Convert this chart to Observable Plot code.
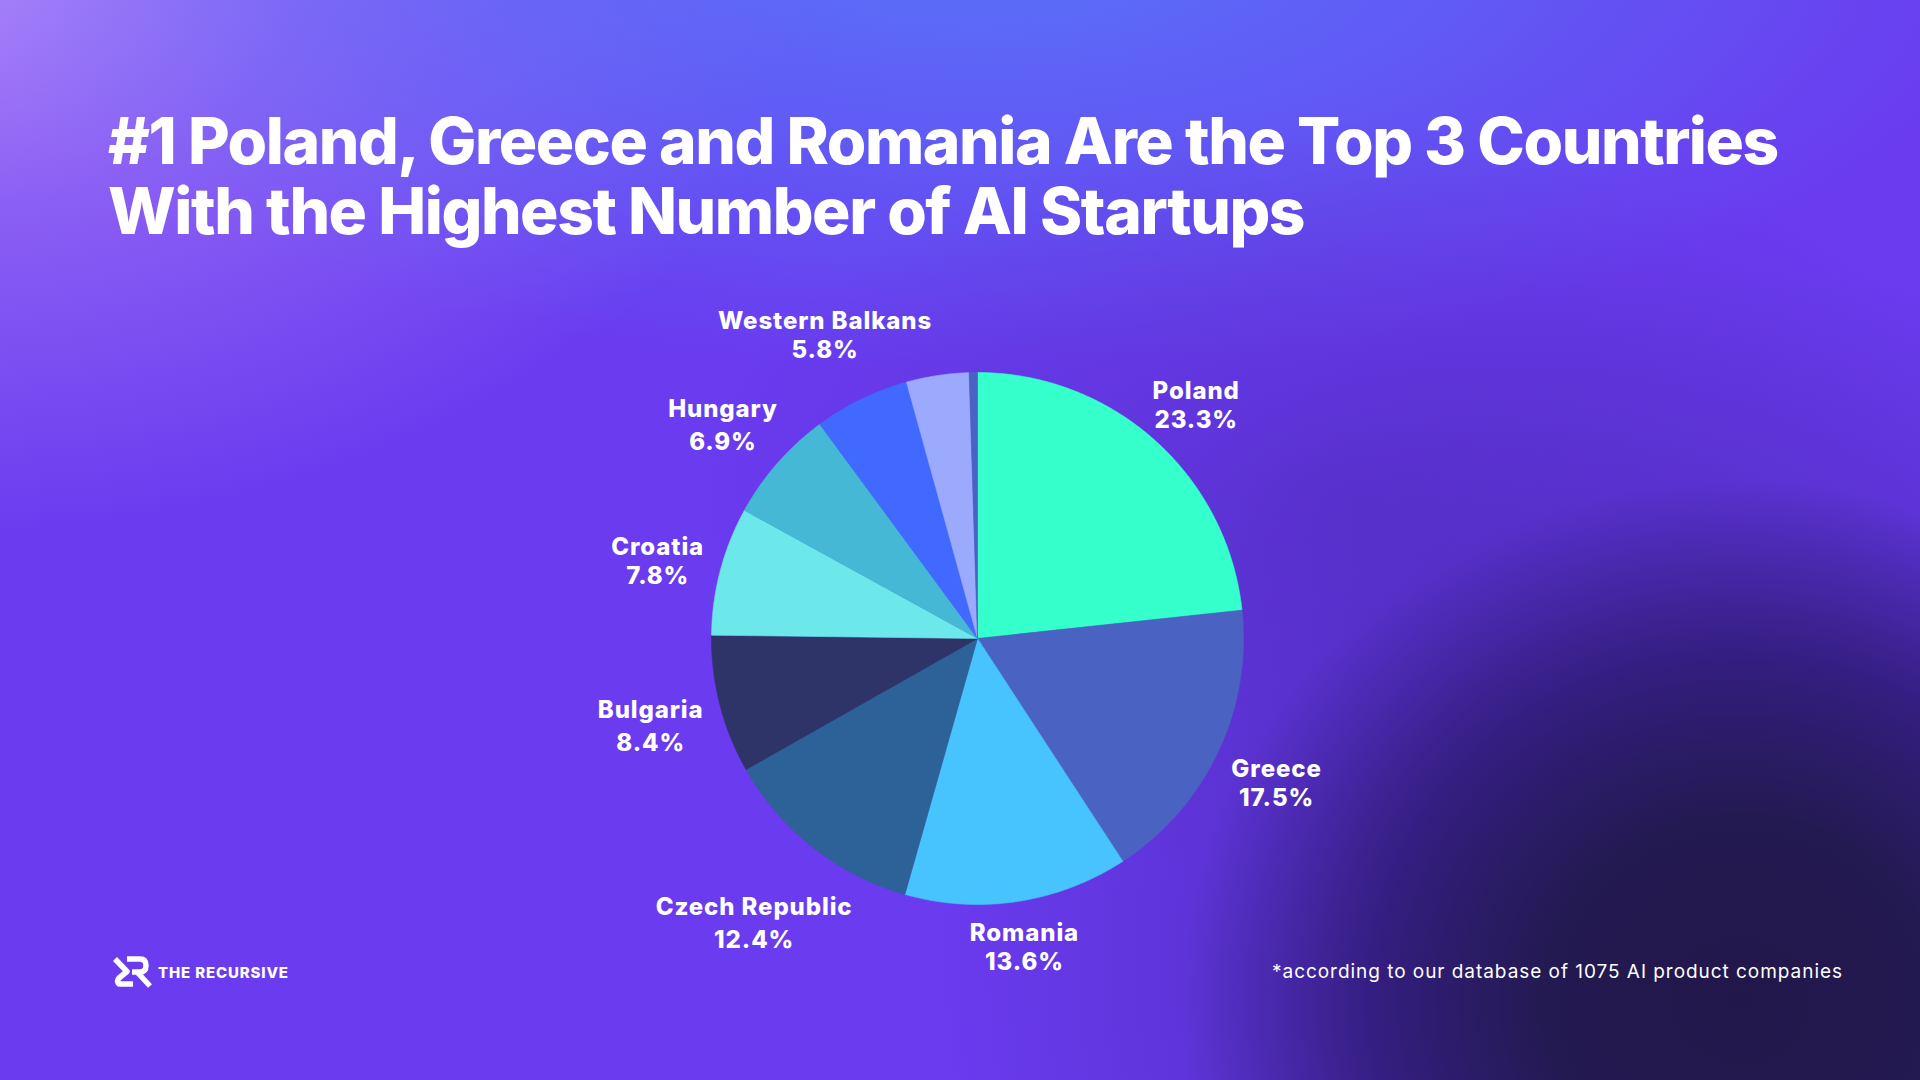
<!DOCTYPE html>
<html>
<head>
<meta charset="utf-8">
<script src="https://cdn.jsdelivr.net/npm/d3@7"></script>
<script src="https://cdn.jsdelivr.net/npm/@observablehq/plot@0.6"></script>
<style>
html, body { margin: 0; padding: 0; }
body {
  width: 1920px; height: 1080px; overflow: hidden; position: relative;
  font-family: Inter, "Open Sans", sans-serif; color: #fff;
  background:
    radial-gradient(ellipse 560px 520px at 1740px 1000px, #21174a 0%, #241a52 35%, rgba(44,26,112,0.8) 65%, rgba(80,40,190,0) 100%),
    radial-gradient(ellipse 760px 700px at 1700px 960px, rgba(48,28,120,0.85) 0%, rgba(70,38,170,0.45) 55%, rgba(100,55,230,0) 100%),
    radial-gradient(ellipse 650px 380px at 1350px 500px, rgba(75,40,180,0.45) 0%, rgba(75,40,180,0) 100%),
    radial-gradient(ellipse 1050px 430px at 980px -60px, rgba(88,118,250,0.95) 0%, rgba(88,118,250,0.5) 50%, rgba(88,118,250,0) 100%),
    radial-gradient(ellipse 880px 600px at -60px -60px, rgba(178,138,250,1) 0%, rgba(165,125,248,0.55) 45%, rgba(165,125,248,0) 100%),
    #6a3bef;
}
#title { position: absolute; left: 108px; top: 106px; font-weight: 800; font-size: 60px; line-height: 70px; white-space: nowrap; }
#title div { display: block; }
#chart { position: absolute; left: 0; top: 260px; }
#logo { position: absolute; left: 113px; top: 956px; display: flex; align-items: center; }
#logo span { font-weight: 800; font-size: 15px; margin-left: 5px; white-space: nowrap; }
#caption { position: absolute; right: 77px; top: 960px; font-size: 19px; line-height: 24px; font-weight: 400; white-space: nowrap; }
</style>
</head>
<body>
<div id="title"><div id="t1">#1 Poland, Greece and Romania Are the Top 3 Countries</div><div id="t2">With the Highest Number of AI Startups</div></div>
<div id="chart"></div>
<div id="logo">
  <svg width="40" height="32" viewBox="0 0 40 32">
    <g fill="none" stroke="#fff" stroke-width="5.5" stroke-linejoin="round" stroke-linecap="butt">
      <path d="M2 3 L14 15.5 L6 22 Q3 25 6 28 L20 28"/>
      <path d="M14 3 L27 3 Q33 3 33 9.5 Q33 16 27 16 L19 16"/>
      <path d="M24 16 L37 30"/>
    </g>
  </svg>
  <span id="logotext">THE RECURSIVE</span>
</div>
<div id="caption">*according to our database of 1075 AI product companies</div>
<script>
// ---- data ----
const countries = ["Poland", "Greece", "Romania", "Czech Republic", "Bulgaria", "Croatia", "Hungary", "Western Balkans", "Other", "Other (small)"];
const shares = [23.3, 17.5, 13.6, 12.4, 8.4, 7.8, 6.9, 5.8, 3.8, 0.5];
const sliceColors = ["#35ffca", "#4a63c3", "#47c3fe", "#2d6299", "#2f3468", "#6ce7ea", "#45b8d6", "#4169ff", "#9caafe", "#4a63c3"];
const showLabel = [true, true, true, true, true, true, true, true, false, false];

// ---- text fitting helpers ----
const ctx = document.createElement("canvas").getContext("2d");
function measure(text, font, ls = 0) { ctx.font = font; return ctx.measureText(text).width + ls * (text.length - 1); }
function fitSpacing(el, target, font) {
  const t = el.textContent; const w = measure(t, font);
  el.style.letterSpacing = ((target - w) / (t.length - 1)) + "px";
}
// title: solve font size and spacing so both lines match their widths
(function () {
  const l1 = document.getElementById("t1").textContent, l2 = document.getElementById("t2").textContent;
  const a1 = measure(l1, "800 100px Inter") / 100, a2 = measure(l2, "800 100px Inter") / 100;
  const n1 = l1.length - 1, n2 = l2.length - 1, W1 = 1674, W2 = 1203;
  let s = (W1 * n2 - W2 * n1) / (a1 * n2 - a2 * n1);
  s = Math.max(54, Math.min(64, s));
  const ls = (W1 - a1 * s) / n1;
  const title = document.getElementById("title");
  title.style.fontSize = s + "px"; title.style.letterSpacing = ls + "px";
})();
fitSpacing(document.getElementById("logotext"), 130, "800 15px Inter");
fitSpacing(document.getElementById("caption"), 570, "400 19px Inter");

// ---- pie geometry in unit space ----
const W = 1920, H = 760, cx = 977, cy = 378, R = 266;
const total = d3.sum(shares);
const slices = [];
let acc = 0;
shares.forEach((v, i) => {
  const a0 = acc / total * 2 * Math.PI; acc += v;
  const a1 = acc / total * 2 * Math.PI;
  slices.push({name: countries[i], value: v, color: sliceColors[i], a0, a1, mid: (a0 + a1) / 2, show: showLabel[i]});
});
const pts = [];
for (const s of slices) {
  pts.push({key: s.name, color: s.color, x: 0, y: 0});
  const n = Math.max(2, Math.ceil((s.a1 - s.a0) / (Math.PI / 720)));
  for (let k = 0; k <= n; k++) {
    const a = s.a0 + (s.a1 - s.a0) * k / n;
    pts.push({key: s.name, color: s.color, x: Math.sin(a), y: -Math.cos(a)});
  }
  pts.push({key: s.name, color: s.color, x: 0, y: 0});
}

const FS = 24, LS = 0.9, FONT = `800 ${FS}px Inter`;
const labels = slices.filter(s => s.show).map(s => {
  const pct = s.value.toFixed(1) + "%";
  const gap = /[gjpqy]/.test(s.name) ? 33 : 29;
  const hw = Math.max(measure(s.name, FONT, LS), measure(pct, FONT, LS)) / 2;
  const hh = (gap + FS * 0.85) / 2;
  const rr = (R + 8 + Math.abs(Math.sin(s.mid)) * hw + Math.abs(Math.cos(s.mid)) * hh) / R;
  const x = rr * Math.sin(s.mid) + 6 * Math.sin(s.mid) / R;
  const y = -rr * Math.cos(s.mid) + 6 / R;
  return {name: s.name, pct, x, yName: y - gap / 2 / R, yPct: y + gap / 2 / R};
});

const textStyle = {fill: "#fff", fontSize: FS, fontWeight: 800, fontFamily: "Inter", textAnchor: "middle", lineAnchor: "middle"};
const chart = Plot.plot({
  width: W, height: H, margin: 0,
  style: {background: "transparent", overflow: "visible"},
  x: {domain: [-cx / R, (W - cx) / R], range: [0, W], axis: null},
  y: {domain: [-cy / R, (H - cy) / R], range: [0, H], axis: null},
  color: {type: "identity"},
  marks: [
    Plot.line(pts, {x: "x", y: "y", z: "key", fill: "color", stroke: "color", strokeWidth: 0.6, curve: "linear"}),
    Plot.text(labels, {x: "x", y: "yName", text: "name", ...textStyle}),
    Plot.text(labels, {x: "x", y: "yPct", text: "pct", ...textStyle})
  ]
});
chart.querySelectorAll("text").forEach(t => t.style.letterSpacing = LS + "px");
document.getElementById("chart").appendChild(chart);
</script>
</body>
</html>
